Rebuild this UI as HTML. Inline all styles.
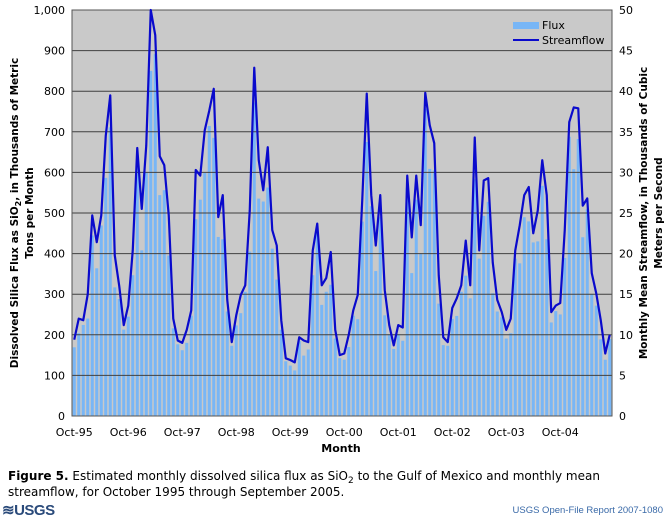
<!DOCTYPE html>
<html><head><meta charset="utf-8"><style>
body{margin:0;background:#fff;width:669px;height:520px;overflow:hidden;font-family:"DejaVu Sans",Verdana,sans-serif}
</style></head><body>
<svg id="s" width="669" height="520" xmlns="http://www.w3.org/2000/svg" font-family="DejaVu Sans, Verdana, sans-serif">
<rect x="72" y="10" width="540" height="406" fill="#c9c9c9"/>
<g id="bars"></g>
<g id="grid" stroke="#404040" stroke-width="1"></g>
<rect x="72" y="10" width="540" height="406" fill="none" stroke="#555" stroke-width="1"/>
<polyline id="line" fill="none" stroke="#0a0acc" stroke-width="2.2" stroke-linejoin="round"/>
<g id="labels" font-size="11" fill="#000"></g>
<rect x="513" y="22" width="26" height="7" fill="#78b6f6"/>
<text x="542" y="29" font-size="11">Flux</text>
<line x1="513" y1="40" x2="539" y2="40" stroke="#0a0acc" stroke-width="2"/>
<text x="542" y="44" font-size="11">Streamflow</text>
<text transform="translate(18,213) rotate(-90)" text-anchor="middle" font-size="10.5" font-weight="bold">Dissolved Silica Flux as SiO<tspan font-size="8" dy="3">2</tspan><tspan dy="-3">, in Thousands of Metric</tspan></text>
<text transform="translate(33,213) rotate(-90)" text-anchor="middle" font-size="10.5" font-weight="bold">Tons per Month</text>
<text transform="translate(647,213) rotate(-90)" text-anchor="middle" font-size="10.5" font-weight="bold">Monthly Mean Streamflow, in Thousands of Cubic</text>
<text transform="translate(662,213) rotate(-90)" text-anchor="middle" font-size="10.5" font-weight="bold">Meters per Second</text>
<text x="341" y="452" text-anchor="middle" font-size="11" font-weight="bold">Month</text>
<text x="8" y="480" font-size="12"><tspan font-weight="bold">Figure 5.</tspan> Estimated monthly dissolved silica flux as SiO<tspan font-size="9" dy="3">2</tspan><tspan dy="-3"> to the Gulf of Mexico and monthly mean</tspan></text>
<text x="8" y="496" font-size="12">streamflow, for October 1995 through September 2005.</text>
<text x="2" y="515" font-size="15" font-weight="bold" fill="#2a4a7a" font-family="Liberation Sans, sans-serif" letter-spacing="-0.5">≋USGS</text>
<text x="663" y="513" text-anchor="end" font-size="9.5" fill="#3a6aa8" font-family="Liberation Sans, sans-serif">USGS Open-File Report 2007-1080</text>
</svg>
<script>
var s=[9.4,12,11.8,15,24.7,21.4,24.7,34.5,39.5,19.8,16,11.2,13.6,20.4,33,25.5,33.3,50,46.9,32,30.9,24.7,12,9.3,9,10.6,13,30.3,29.6,35.2,37.6,40.3,24.5,27.2,14.3,9.1,12.4,14.9,16.1,25.3,42.9,31.5,27.8,33.1,22.9,21,11.8,7.1,6.9,6.6,9.7,9.3,9.1,20.4,23.7,16.1,17,20.2,10.6,7.5,7.7,10,13,14.9,26.6,39.7,27.2,21,27.2,15.5,11.2,8.7,11.2,10.9,29.6,22,29.6,23.5,39.8,35.8,33.6,17.3,9.7,9.1,13.3,14.5,16.1,21.6,16.1,34.3,20.4,29,29.3,18.9,14.3,12.8,10.6,12,20.4,23.5,27.2,28.2,22.5,25.3,31.5,27.2,12.8,13.6,13.9,22.9,36.2,38,37.9,25.9,26.8,17.6,15.1,11.8,7.7,10];
var NS="http://www.w3.org/2000/svg";
function el(t,a,p,txt){var e=document.createElementNS(NS,t);for(var k in a)e.setAttribute(k,a[k]);if(txt)e.textContent=txt;document.getElementById(p).appendChild(e);return e;}
var y0=416,sc=0.406,pts=[];
var fm=[.9,.85,.95,.8,.9,.85,.95,.85,.9,.8,.9,.95];
for(var i=0;i<120;i++){var x=74.25+4.5*i;var f=s[i]*20*fm[i%12];
el('rect',{x:x-1.5,y:y0-f*sc,width:3,height:f*sc,fill:'#78b6f6'},'bars');
pts.push(x.toFixed(2)+','+(y0-s[i]*20*sc).toFixed(1));}
document.getElementById('line').setAttribute('points',pts.join(' '));
for(var v=100;v<1000;v+=100){var y=y0-v*sc;el('line',{x1:72,x2:612,y1:y,y2:y},'grid');}
for(var v=0;v<=1000;v+=100){var y=y0-v*sc;el('text',{x:65,y:y+4,'text-anchor':'end'},'labels',v==1000?'1,000':String(v));
el('text',{x:619,y:y+4},'labels',String(v/20));}
var yr=['95','96','97','98','99','00','01','02','03','04'];
for(var j=0;j<10;j++)el('text',{x:74.25+54*j,y:436,'text-anchor':'middle'},'labels','Oct-'+yr[j]);
</script>
</body></html>
